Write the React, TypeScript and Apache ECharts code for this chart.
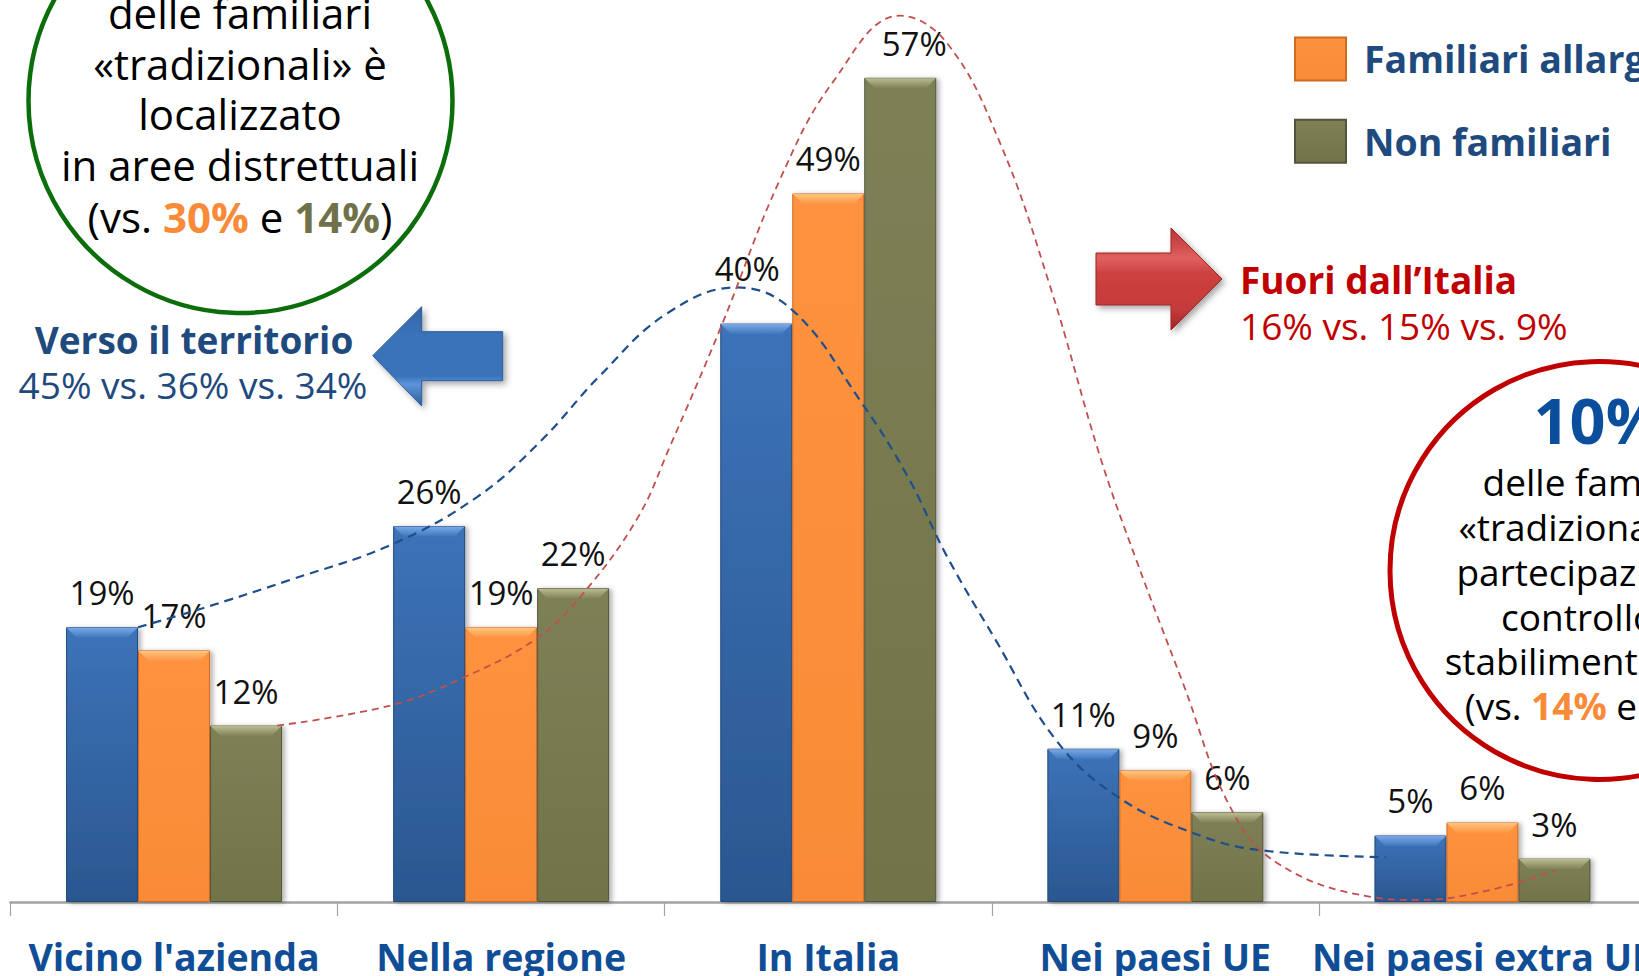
import React, { useEffect, useRef } from "react";
import * as echarts from "echarts";

const categories = ["Vicino l'azienda", "Nella regione", "In Italia", "Nei paesi UE", "Nei paesi extra UE"];
const seriesNames = ["Familiari tradizionali", "Familiari allargate", "Non familiari"];
const tradizionali = [19, 26, 40, 10.6, 4.6];
const allargate = [17.4, 19, 49, 9.1, 5.5];
const nonFamiliari = [12.2, 21.7, 57, 6.2, 3.0];

// trend curves, in [category-position, percent] units
const blueTrend = [
  [0.39, 19.0], [0.585, 20.3], [0.858, 22.3], [1.163, 24.7], [1.426, 28.0], [1.622, 31.9],
  [1.802, 36.4], [2.007, 40.7], [2.221, 42.5], [2.392, 40.9], [2.597, 34.7], [2.741, 29.5],
  [2.863, 23.9], [3.007, 18.3], [3.196, 11.2], [3.383, 7.3], [3.612, 4.8], [3.814, 3.6], [4.205, 3.1],
];
const redTrend = [
  [0.815, 12.2], [1.163, 13.6], [1.383, 15.5], [1.613, 18.3], [1.753, 21.4], [1.918, 26.6],
  [2.016, 31.5], [2.169, 39.6], [2.353, 50.0], [2.514, 56.7], [2.719, 61.3], [2.863, 59.4],
  [3.025, 52.5], [3.178, 42.6], [3.331, 30.8], [3.441, 23.7], [3.585, 15.1], [3.728, 6.6],
  [3.872, 2.7], [4.162, 0.35], [4.306, 0.14], [4.523, 0.83], [4.725, 2.2],
];

const greenCircleLines = ["delle familiari", "«tradizionali» è", "localizzato", "in aree distrettuali"];
const greenCircleLast = "(vs. {o|30%} e {g|14%})";
const redCircleTitle = "10%";
const redCircleLines = ["delle familiari", "«tradizionali» ha", "partecipazioni di", "controllo in", "stabilimenti esteri"];
const redCircleLast = "(vs. {o|14%} e {g|12%})";
const leftTitle = "Verso il territorio";
const leftValues = "45% vs. 36% vs. 34%";
const rightTitle = "Fuori dall\u2019Italia";
const rightValues = "16% vs. 15% vs. 9%";

const FONT = "'Open Sans', 'Noto Sans', sans-serif";
const BAR_W = 72;
const BEVEL = 10;
const bevelColors = [
  ["#7aa9e6", "#3f77bd"],
  ["#ffc67c", "#fd9444"],
  ["#b9bb90", "#7f8157"],
];
// manual label nudges (series index - category index -> [dx, dy] px)
const labelNudges: Record<string, number[]> = { "0-2": [-9, -21], "2-2": [14, 0] };

function vgrad(a: string, b: string) {
  return new echarts.graphic.LinearGradient(0, 0, 0, 1, [
    { offset: 0, color: a },
    { offset: 1, color: b },
  ]);
}

export default function App() {
  const ref = useRef<HTMLDivElement>(null);
  useEffect(() => {
    if (!ref.current) return;
    const chart = echarts.init(ref.current, null, { renderer: "svg" });

    const barShadow = {
      shadowBlur: 5,
      shadowOffsetX: 3,
      shadowOffsetY: 1,
      shadowColor: "rgba(0,0,0,0.3)",
    };
    const label = {
      show: true,
      position: "top",
      distance: 18,
      fontSize: 33,
      fontFamily: FONT,
      color: "#111111",
      formatter: (p: any) => Math.round(p.value) + "%",
    };
    const withNudges = (arr: number[], s: number) =>
      arr.map((v, i) => {
        const n = labelNudges[s + "-" + i];
        return n ? { value: v, label: { offset: n } } : v;
      });

    const bevelData = categories.map((_, i) => [i, tradizionali[i], allargate[i], nonFamiliari[i]]);

    const graphic: any[] = [];
    graphic.push({
      type: "circle",
      shape: { cx: 240.5, cy: 101, r: 212 },
      style: { fill: "none", stroke: "#0b6e0b", lineWidth: 4.5 },
      z: 10,
    });
    const gy = [12.5, 63, 113.5, 164.5];
    greenCircleLines.forEach((t, i) => {
      graphic.push({
        type: "text",
        x: 240,
        y: gy[i],
        style: { text: t, fontSize: 42, fontFamily: FONT, fill: "#000", align: "center", verticalAlign: "middle" },
        z: 11,
      });
    });
    graphic.push({
      type: "text",
      x: 240,
      y: 216,
      style: {
        text: greenCircleLast,
        fontSize: 42,
        fontFamily: FONT,
        fill: "#000",
        align: "center",
        verticalAlign: "middle",
        rich: {
          o: { fill: "#f88a38", fontWeight: "bold", fontSize: 42, fontFamily: FONT },
          g: { fill: "#6f7149", fontWeight: "bold", fontSize: 42, fontFamily: FONT },
        },
      },
      z: 11,
    });

    graphic.push({
      type: "circle",
      shape: { cx: 1599, cy: 570.5, r: 209 },
      style: { fill: "none", stroke: "#c00000", lineWidth: 5 },
      z: 10,
    });
    graphic.push({
      type: "text",
      x: 1598,
      y: 419,
      style: { text: redCircleTitle, fontSize: 63, fontWeight: "bold", fontFamily: FONT, fill: "#0b4f9c", align: "center", verticalAlign: "middle" },
      z: 11,
    });
    const ry = [481.5, 526.5, 571, 616, 660.5];
    redCircleLines.forEach((t, i) => {
      graphic.push({
        type: "text",
        x: 1599,
        y: ry[i],
        style: { text: t, fontSize: 37, fontFamily: FONT, fill: "#000", align: "center", verticalAlign: "middle" },
        z: 11,
      });
    });
    graphic.push({
      type: "text",
      x: 1599,
      y: 705.5,
      style: {
        text: redCircleLast,
        fontSize: 37,
        fontFamily: FONT,
        fill: "#000",
        align: "center",
        verticalAlign: "middle",
        rich: {
          o: { fill: "#f88a38", fontWeight: "bold", fontSize: 37, fontFamily: FONT },
          g: { fill: "#6f7149", fontWeight: "bold", fontSize: 37, fontFamily: FONT },
        },
      },
      z: 11,
    });

    graphic.push({
      type: "text",
      x: 194,
      y: 339,
      style: { text: leftTitle, fontSize: 37, fontWeight: "bold", fontFamily: FONT, fill: "#1f4a7e", align: "center", verticalAlign: "middle" },
      z: 11,
    });
    graphic.push({
      type: "text",
      x: 193,
      y: 384,
      style: { text: leftValues, fontSize: 37, fontFamily: FONT, fill: "#1f4a7e", align: "center", verticalAlign: "middle" },
      z: 11,
    });
    graphic.push({
      type: "polygon",
      shape: {
        points: [
          [372.7, 355.7], [421.7, 306.7], [421.7, 331.7], [502.7, 331.7],
          [502.7, 380.7], [421.7, 380.7], [421.7, 406],
        ],
      },
      style: {
        fill: new echarts.graphic.LinearGradient(0, 0, 0, 1, [
          { offset: 0, color: "#3466a8" },
          { offset: 0.3, color: "#3b73ba" },
          { offset: 0.7, color: "#3b73ba" },
          { offset: 0.78, color: "#5d95db" },
          { offset: 1, color: "#2d5c98" },
        ]),
        stroke: "#2d5c98",
        lineWidth: 1,
        shadowBlur: 6,
        shadowOffsetX: 3,
        shadowOffsetY: 3,
        shadowColor: "rgba(0,0,0,0.35)",
      },
      z: 11,
    });

    graphic.push({
      type: "text",
      x: 1240,
      y: 279,
      style: { text: rightTitle, fontSize: 37, fontWeight: "bold", fontFamily: FONT, fill: "#c00000", align: "left", verticalAlign: "middle" },
      z: 11,
    });
    graphic.push({
      type: "text",
      x: 1240,
      y: 325,
      style: { text: rightValues, fontSize: 37, fontFamily: FONT, fill: "#c00000", align: "left", verticalAlign: "middle" },
      z: 11,
    });
    graphic.push({
      type: "polygon",
      shape: {
        points: [
          [1096, 253], [1171, 253], [1171, 228], [1222, 279],
          [1171, 330], [1171, 305], [1096, 305],
        ],
      },
      style: {
        fill: new echarts.graphic.LinearGradient(0, 0, 0, 1, [
          { offset: 0, color: "#b83232" },
          { offset: 0.3, color: "#e06060" },
          { offset: 0.45, color: "#cc4040" },
          { offset: 0.8, color: "#c53a3a" },
          { offset: 1, color: "#9e2626" },
        ]),
        stroke: "#9e2626",
        lineWidth: 1,
        shadowBlur: 6,
        shadowOffsetX: 3,
        shadowOffsetY: 3,
        shadowColor: "rgba(0,0,0,0.35)",
      },
      z: 11,
    });

    chart.setOption({
      animation: false,
      backgroundColor: "#ffffff",
      textStyle: { fontFamily: FONT },
      grid: { left: 10.5, right: -7, top: 5.5, bottom: 74, containLabel: false, outerBoundsMode: "none" },
      legend: {
        orient: "vertical",
        left: 1294,
        top: -46,
        padding: 0,
        itemWidth: 51,
        itemHeight: 43,
        itemGap: 37.4,
        icon: "rect",
        selectedMode: false,
        data: seriesNames,
        textStyle: {
          fontSize: 37.5,
          fontWeight: "bold",
          color: "#1f4a7e",
          fontFamily: FONT,
          padding: [0, 0, 0, 13],
          lineHeight: 40,
        },
      },
      xAxis: [
        {
          type: "category",
          data: categories,
          axisLine: { show: true, lineStyle: { color: "#a3a3a3", width: 2.5 } },
          axisTick: { show: true, length: 14, lineStyle: { color: "#a3a3a3", width: 1.2 } },
          axisLabel: {
            interval: 0,
            margin: 35,
            fontSize: 37.5,
            fontWeight: "bold",
            color: "#0f4d97",
            fontFamily: FONT,
            hideOverlap: false,
          },
        },
        { type: "value", min: 0, max: 5, show: false },
      ],
      yAxis: { type: "value", min: 0, max: 62, show: false, splitLine: { show: false } },
      graphic,
      series: [
        {
          name: seriesNames[0],
          type: "bar",
          data: withNudges(tradizionali, 0),
          barWidth: BAR_W,
          barGap: "0%",
          label,
          itemStyle: { color: vgrad("#3c73b8", "#2b5790"), borderColor: "#23497a", borderWidth: 1, ...barShadow },
          z: 2,
        },
        {
          name: seriesNames[1],
          type: "bar",
          data: withNudges(allargate, 1),
          barWidth: BAR_W,
          barGap: "0%",
          label,
          itemStyle: { color: vgrad("#fe923f", "#f98b37"), borderColor: "#cf6a22", borderWidth: 1, ...barShadow },
          z: 2,
        },
        {
          name: seriesNames[2],
          type: "bar",
          data: withNudges(nonFamiliari, 2),
          barWidth: BAR_W,
          barGap: "0%",
          label,
          itemStyle: { color: vgrad("#7e8056", "#717349"), borderColor: "#52543a", borderWidth: 1, ...barShadow },
          z: 2,
        },
        {
          type: "custom",
          silent: true,
          data: bevelData,
          encode: { x: 0, y: [1, 2, 3] },
          z: 3,
          renderItem: (params: any, api: any) => {
            const children: any[] = [];
            for (let k = 0; k < 3; k++) {
              const p = api.coord([api.value(0), api.value(k + 1)]);
              const x0 = p[0] - 1.5 * BAR_W + k * BAR_W + 0.5;
              const x1 = x0 + BAR_W - 1;
              const y = p[1] + 0.5;
              children.push({
                type: "polygon",
                shape: {
                  points: [
                    [x0, y], [x1, y], [x1 - BEVEL, y + BEVEL], [x0 + BEVEL, y + BEVEL],
                  ],
                },
                style: {
                  fill: new echarts.graphic.LinearGradient(0, 0, 0, 1, [
                    { offset: 0, color: bevelColors[k][0] },
                    { offset: 1, color: bevelColors[k][1] },
                  ]),
                },
              });
            }
            return { type: "group", children };
          },
        },
        {
          type: "line",
          xAxisIndex: 1,
          data: blueTrend,
          smooth: 0.4,
          symbol: "none",
          silent: true,
          lineStyle: { color: "#1f4e8c", width: 2.2, type: [9, 6] },
          z: 5,
        },
        {
          type: "line",
          xAxisIndex: 1,
          data: redTrend,
          smooth: 0.4,
          symbol: "none",
          silent: true,
          lineStyle: { color: "#c0504d", width: 1.8, type: [7, 5] },
          z: 5,
        },
      ],
    });

    return () => chart.dispose();
  }, []);

  return <div ref={ref} style={{ position: "fixed", left: 0, top: 0, width: 1639, height: 976 }} />;
}
